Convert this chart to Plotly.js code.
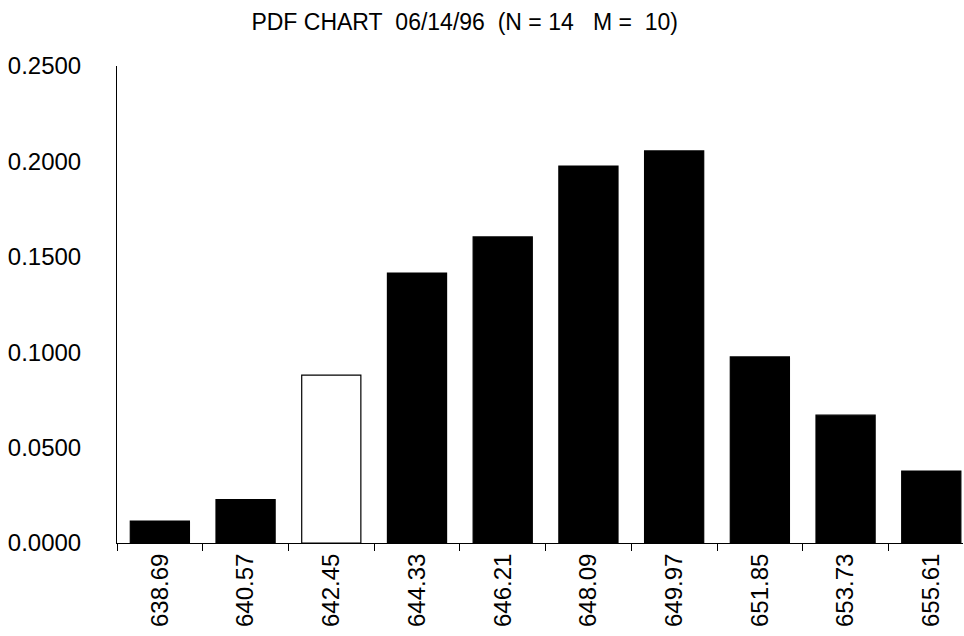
<!DOCTYPE html>
<html>
<head>
<meta charset="utf-8">
<script src="https://cdn.plot.ly/plotly-3.0.1.min.js"></script>
<style>html,body{margin:0;padding:0;background:#fff;}#chart{width:964px;height:636px;}</style>
</head>
<body>
<div id="chart"></div>
<script>
const categories = ["638.69","640.57","642.45","644.33","646.21","648.09","649.97","651.85","653.73","655.61"];
const pdfValues = [0.0115, 0.0228, 0.0880, 0.1415, 0.1604, 0.1976, 0.2055, 0.0975, 0.0670, 0.0377];
const barColors = ["#000","#000","#fff","#000","#000","#000","#000","#000","#000","#000"];
const yTickVals = [0, 0.05, 0.10, 0.15, 0.20, 0.25];
const yTickText = ["0.0000","0.0500","0.1000","0.1500","0.2000","0.2500"];
const chartTitle = "PDF CHART&nbsp;&nbsp;06/14/96&nbsp;&nbsp;(N = 14&nbsp;&nbsp;&nbsp;M =&nbsp;&nbsp;10)";

const font = "Liberation Sans, Arial, sans-serif";
Plotly.newPlot("chart", [{
  type: "bar",
  x: categories,
  y: pdfValues,
  marker: {color: barColors, line: {color: "#000", width: 1.2}},
  hoverinfo: "x+y"
}], {
  width: 964, height: 636,
  margin: {l: 117, r: 1, t: 66, b: 93},
  paper_bgcolor: "#fff", plot_bgcolor: "#fff",
  bargap: 0.31,
  showlegend: false,
  title: {text: chartTitle, x: 0.482, xanchor: "center", y: 0.965, yanchor: "middle",
          font: {family: font, size: 23, color: "#000"}},
  xaxis: {
    type: "category", range: [-0.5, 9.37],
    showline: true, linecolor: "#000", linewidth: 1,
    ticks: "outside", tickson: "boundaries", ticklen: 7, tickcolor: "#000", tickwidth: 1,
    tickangle: -90, tickfont: {family: font, size: 24, color: "#000"},
    showgrid: false, zeroline: false, fixedrange: true
  },
  yaxis: {
    range: [0, 0.25], tickvals: yTickVals, ticktext: yTickText,
    showline: true, linecolor: "#000", linewidth: 1,
    ticks: "", ticklabelstandoff: 30,
    tickfont: {family: font, size: 24, color: "#000"},
    showgrid: false, zeroline: false, fixedrange: true
  }
}, {displayModeBar: false, staticPlot: true});
</script>
</body>
</html>
